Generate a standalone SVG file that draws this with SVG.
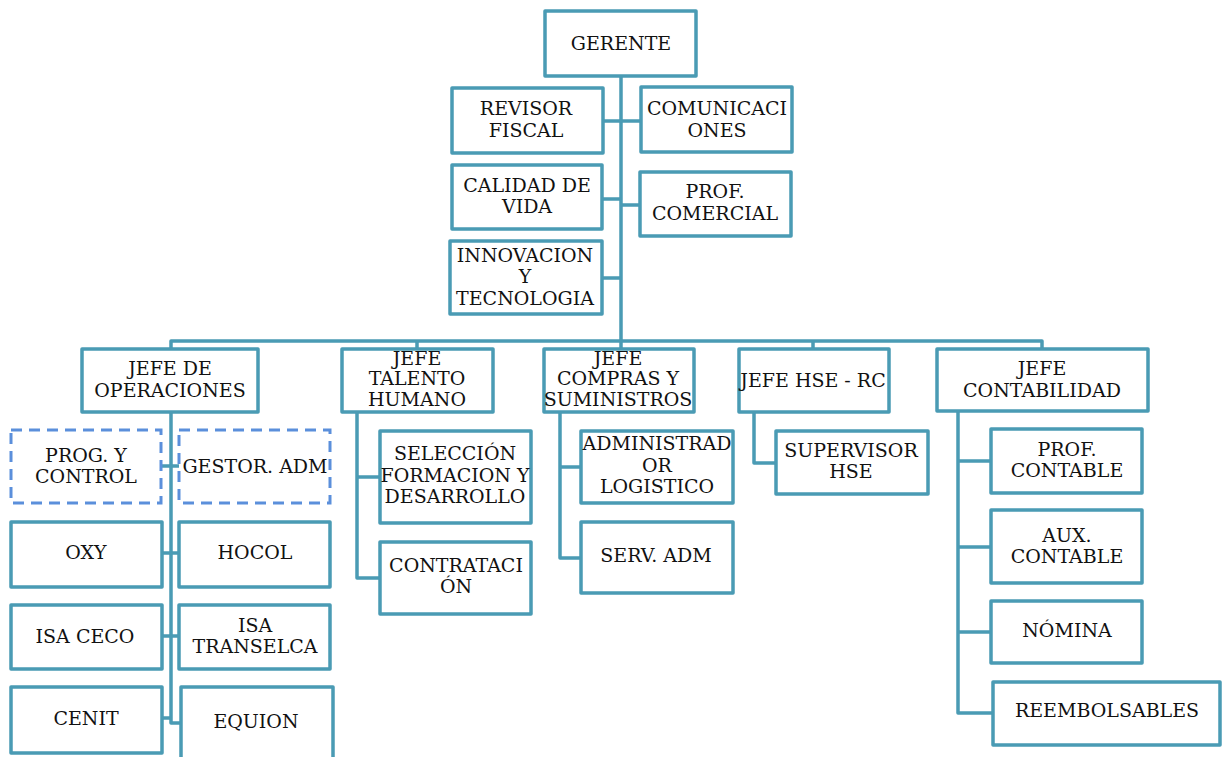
<svg xmlns="http://www.w3.org/2000/svg" width="1222" height="757" viewBox="0 0 1222 757">
<style>
.b{fill:#fff;stroke:#4a9bb4;stroke-width:3.5;stroke-linejoin:round}
.d{fill:#fff;stroke:#5b8fdb;stroke-width:3;stroke-dasharray:11 7}
.c{fill:none;stroke:#4a9bb4;stroke-width:3.5;stroke-linejoin:round}
text{font-family:'DejaVu Serif','Liberation Serif',serif;font-size:19px;fill:#111;text-anchor:middle}
</style>
<rect width="1222" height="757" fill="#fff"/>
<g id="connectors">
<path class="c" d="M621 76V349M171 349V341H1042V349M417 341V349M813 341V349"/>
<path class="c" d="M603 121H641M602 199H621M621 205H640M602 278H621"/>
<path class="c" d="M171 412V723H181M161 466H179M162 553H179M162 636H179M162 718H171"/>
<path class="c" d="M357 412V578H380M357 477H380"/>
<path class="c" d="M560 412V558H581M560 467H581"/>
<path class="c" d="M754 412V463H776"/>
<path class="c" d="M958 411V713H993M958 461H991M958 547H991M958 632H991"/>
</g>
<g id="gerente"><rect class="b" x="545" y="11" width="151" height="65"/><text x="621" y="50">GERENTE</text></g>
<g id="revisor"><rect class="b" x="452" y="88" width="151" height="65"/><text x="526" y="115">REVISOR</text><text x="526" y="137">FISCAL</text></g>
<g id="comunicaciones"><rect class="b" x="641" y="87" width="151" height="65"/><text x="717" y="115">COMUNICACI</text><text x="717" y="137">ONES</text></g>
<g id="calidad"><rect class="b" x="452" y="165" width="150" height="64"/><text x="527" y="192">CALIDAD DE</text><text x="527" y="213">VIDA</text></g>
<g id="comercial"><rect class="b" x="640" y="172" width="151" height="64"/><text x="715" y="198">PROF.</text><text x="715" y="220">COMERCIAL</text></g>
<g id="innovacion"><rect class="b" x="450" y="241" width="152" height="73"/><text x="525" y="262">INNOVACION</text><text x="525" y="283">Y</text><text x="525" y="305">TECNOLOGIA</text></g>
<g id="operaciones"><rect class="b" x="82" y="349" width="176" height="63"/><text x="170" y="375">JEFE DE</text><text x="170" y="397">OPERACIONES</text></g>
<g id="talento"><rect class="b" x="342" y="349" width="151" height="63"/><text x="417" y="365">JEFE</text><text x="417" y="385">TALENTO</text><text x="417" y="406">HUMANO</text></g>
<g id="compras"><rect class="b" x="544" y="349" width="150" height="63"/><text x="618" y="365">JEFE</text><text x="618" y="385">COMPRAS Y</text><text x="618" y="406">SUMINISTROS</text></g>
<g id="hse"><rect class="b" x="739" y="349" width="150" height="63"/><text x="813" y="387">JEFE HSE - RC</text></g>
<g id="contabilidad"><rect class="b" x="937" y="349" width="211" height="62"/><text x="1042" y="375">JEFE</text><text x="1042" y="397">CONTABILIDAD</text></g>
<g id="prog"><rect class="d" x="11" y="430" width="150" height="73"/><text x="86" y="462">PROG. Y</text><text x="86" y="483">CONTROL</text></g>
<g id="gestor"><rect class="d" x="179" y="430" width="151" height="73"/><text x="255" y="473">GESTOR. ADM</text></g>
<g id="oxy"><rect class="b" x="11" y="522" width="151" height="65"/><text x="86" y="559">OXY</text></g>
<g id="hocol"><rect class="b" x="179" y="522" width="151" height="65"/><text x="255" y="559">HOCOL</text></g>
<g id="isaceco"><rect class="b" x="11" y="605" width="151" height="64"/><text x="85" y="643">ISA CECO</text></g>
<g id="transelca"><rect class="b" x="179" y="605" width="151" height="64"/><text x="255" y="632">ISA</text><text x="255" y="653">TRANSELCA</text></g>
<g id="cenit"><rect class="b" x="11" y="687" width="151" height="66"/><text x="86" y="725">CENIT</text></g>
<g id="equion"><rect class="b" x="181" y="687" width="152" height="80"/><text x="256" y="728">EQUION</text></g>
<g id="seleccion"><rect class="b" x="380" y="431" width="151" height="92"/><text x="455" y="460">SELECCIÓN</text><text x="455" y="482">FORMACION Y</text><text x="455" y="503">DESARROLLO</text></g>
<g id="contratacion"><rect class="b" x="380" y="542" width="151" height="72"/><text x="456" y="572">CONTRATACI</text><text x="456" y="593">ÓN</text></g>
<g id="logistico"><rect class="b" x="581" y="431" width="152" height="72"/><text x="657" y="450">ADMINISTRAD</text><text x="657" y="472">OR</text><text x="657" y="493">LOGISTICO</text></g>
<g id="servadm"><rect class="b" x="581" y="522" width="152" height="71"/><text x="656" y="562">SERV. ADM</text></g>
<g id="supervisor"><rect class="b" x="776" y="431" width="152" height="63"/><text x="851" y="457">SUPERVISOR</text><text x="851" y="478">HSE</text></g>
<g id="profcontable"><rect class="b" x="991" y="429" width="151" height="64"/><text x="1067" y="456">PROF.</text><text x="1067" y="477">CONTABLE</text></g>
<g id="auxcontable"><rect class="b" x="991" y="510" width="151" height="73"/><text x="1067" y="542">AUX.</text><text x="1067" y="563">CONTABLE</text></g>
<g id="nomina"><rect class="b" x="991" y="601" width="151" height="62"/><text x="1067" y="637">NÓMINA</text></g>
<g id="reembolsables"><rect class="b" x="993" y="682" width="227" height="63"/><text x="1107" y="717">REEMBOLSABLES</text></g>
</svg>
